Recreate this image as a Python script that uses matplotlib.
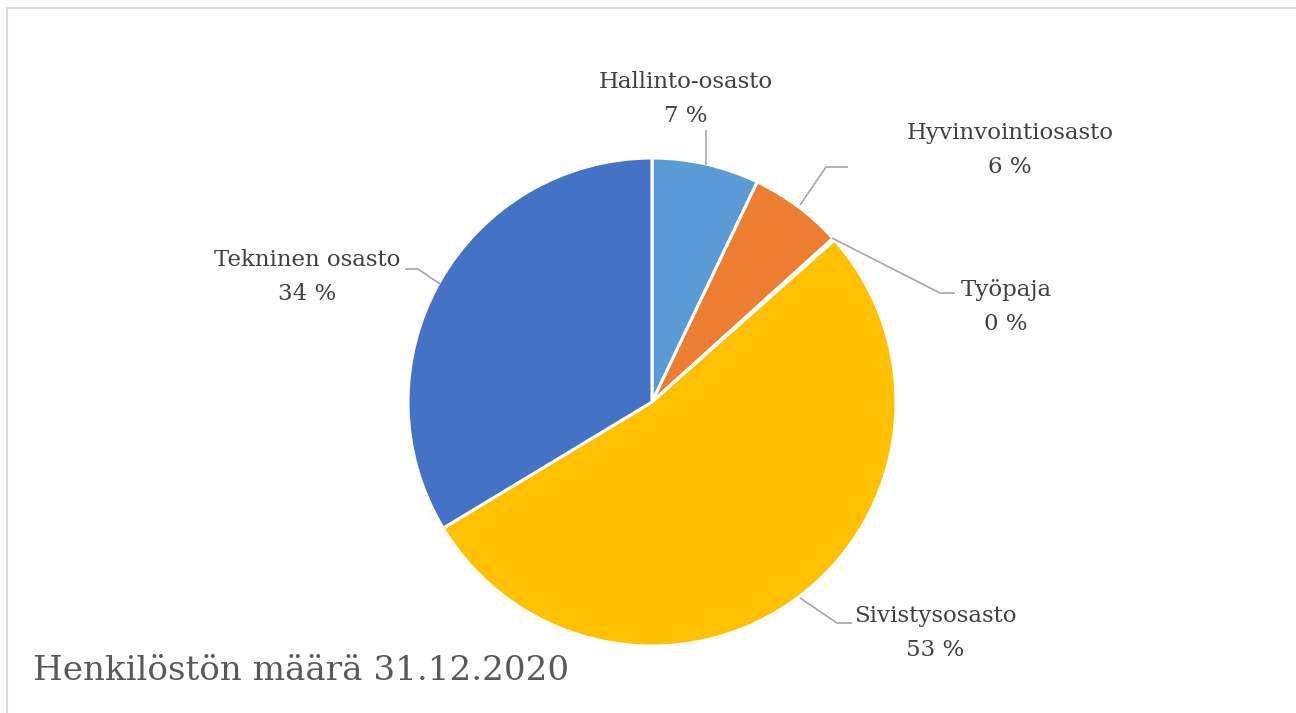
import matplotlib
matplotlib.use("Agg")
import matplotlib.pyplot as plt
from matplotlib.lines import Line2D

categories = ["Hallinto-osasto", "Hyvinvointiosasto", "Työpaja", "Sivistysosasto", "Tekninen osasto"]
values = [7.1, 6.2, 0.15, 52.9, 33.65]
pct_labels = ["7 %", "6 %", "0 %", "53 %", "34 %"]
colors = ["#5B9BD5", "#ED7D31", "#A5A5A5", "#FFC000", "#4472C4"]
title = "Henkilöstön määrä 31.12.2020"

W, H = 1296, 713
fig = plt.figure(figsize=(W / 100, H / 100), dpi=100)
ax = fig.add_axes([0, 0, 1, 1])

cx, cy, r = 652, H - 402, 244
ax.pie(values, colors=colors, startangle=90, counterclock=False,
       center=(cx, cy), radius=r, frame=True,
       wedgeprops=dict(edgecolor="white", linewidth=2.2))
ax.set_xlim(0, W)
ax.set_ylim(0, H)
ax.set_aspect("equal")
ax.axis("off")

font = "DejaVu Serif"
tc = "#404040"
fs = 16.5

# label positions (pixel coordinates, y from top) and leader lines
label_pos = [(686, 82), (1010, 133), (1006, 290), (935, 616), (307, 260)]
leaders = [
    [(706, 165), (706, 130)],
    [(800, 205), (826, 167), (848, 167)],
    [(832, 238), (940, 293), (955, 293)],
    [(800, 598), (837, 623), (852, 623)],
    [(440, 284), (418, 269), (405, 269)],
]
for (lx, ly), name, pct in zip(label_pos, categories, pct_labels):
    ax.text(lx, H - ly, name, ha="center", va="center", fontsize=fs,
            family=font, color=tc)
    ax.text(lx, H - ly - 34, pct, ha="center", va="center", fontsize=fs,
            family=font, color=tc)
for pts in leaders:
    xs = [p[0] for p in pts]
    ys = [H - p[1] for p in pts]
    ax.plot(xs, ys, color="#A6A6A6", linewidth=1.2, solid_capstyle="butt")

ax.text(33, H - 671, title, ha="left", va="center", fontsize=24.6,
        family=font, color="#595959")

# frame lines (left and top)
fig.add_artist(Line2D([7 / W, 7 / W], [0, 1 - 8 / H], transform=fig.transFigure,
                      color="#D9D9D9", linewidth=1.5))
fig.add_artist(Line2D([7 / W, 1], [1 - 8 / H, 1 - 8 / H], transform=fig.transFigure,
                      color="#D9D9D9", linewidth=1.5))

fig.savefig("out.png", dpi=100, facecolor="white")
